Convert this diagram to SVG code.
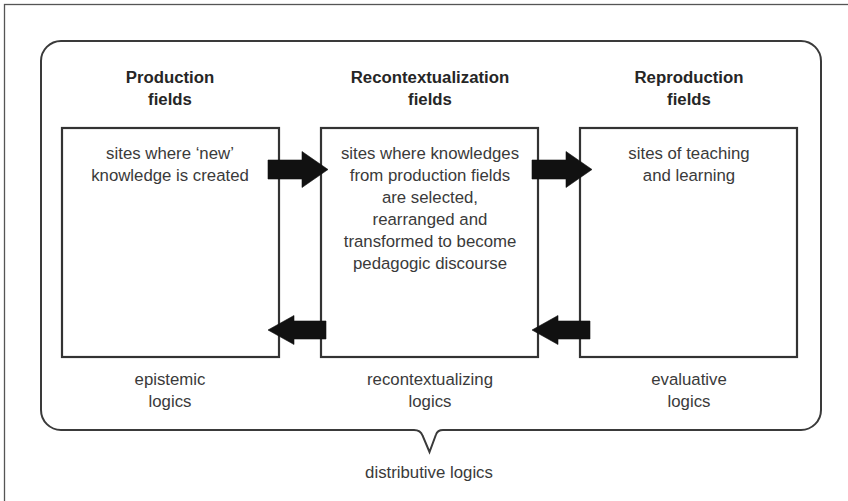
<svg xmlns="http://www.w3.org/2000/svg" width="848" height="501" viewBox="0 0 848 501">
<style>
text{font-family:"Liberation Sans",Arial,Helvetica,sans-serif;font-size:16.8px;text-anchor:middle;fill:#3a3a3a}
.h{font-weight:bold;fill:#262626}
.box{fill:#fff;stroke:#333;stroke-width:2.2}
.arr{fill:#111;stroke:#111;stroke-width:0.6;stroke-linejoin:round}
</style>
<rect width="848" height="501" fill="#fff"/>
<rect x="4.5" y="4.5" width="900" height="600" fill="none" stroke="#555" stroke-width="1.3"/>
<g id="container">
<path d="M61,41 H801 A20,20 0 0 1 821,61 V410 A20,20 0 0 1 801,430 H443 Q437.5,430 436,434.5 L429.5,452 L422.5,435.5 Q420.5,430 414,430 H61 A20,20 0 0 1 41,410 V61 A20,20 0 0 1 61,41 Z" fill="#fff" stroke="#3a3a3a" stroke-width="2"/>
<text x="429" y="478">distributive logics</text>
</g>
<g id="production">
<text class="h" x="170" y="83">Production</text>
<text class="h" x="170" y="105">fields</text>
<rect class="box" x="62" y="128" width="217" height="229"/>
<text x="170" y="159">sites where ‘new’</text>
<text x="170" y="181">knowledge is created</text>
<text x="170" y="385">epistemic</text>
<text x="170" y="407">logics</text>
</g>
<g id="recontextualization">
<text class="h" x="430" y="83">Recontextualization</text>
<text class="h" x="430" y="105">fields</text>
<rect class="box" x="321" y="128" width="217" height="229"/>
<text x="430" y="159">sites where knowledges</text>
<text x="430" y="181">from production fields</text>
<text x="430" y="203">are selected,</text>
<text x="430" y="225">rearranged and</text>
<text x="430" y="247">transformed to become</text>
<text x="430" y="269">pedagogic discourse</text>
<text x="430" y="385">recontextualizing</text>
<text x="430" y="407">logics</text>
</g>
<g id="reproduction">
<text class="h" x="689" y="83">Reproduction</text>
<text class="h" x="689" y="105">fields</text>
<rect class="box" x="580" y="128" width="217" height="229"/>
<text x="689" y="159">sites of teaching</text>
<text x="689" y="181">and learning</text>
<text x="689" y="385">evaluative</text>
<text x="689" y="407">logics</text>
</g>
<g id="connectors">
<path class="arr" d="M268,160 H302 V151.5 L328,169.5 L302,187.5 V179 H268 Z"/>
<path class="arr" d="M532,160 H566 V151.5 L592,169.5 L566,187.5 V179 H532 Z"/>
<path class="arr" d="M326,321 H294 V315.5 L268,330 L294,344.5 V339 H326 Z"/>
<path class="arr" d="M590,321 H558 V315.5 L532,330 L558,344.5 V339 H590 Z"/>
</g>
</svg>
